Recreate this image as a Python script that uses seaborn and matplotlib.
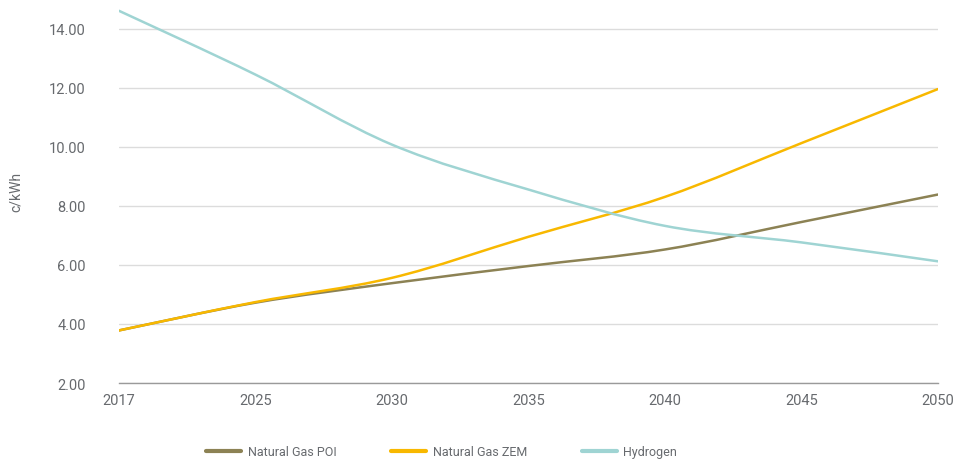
import pandas as pd
import matplotlib.pyplot as plt
import seaborn as sns
from matplotlib.path import Path
from matplotlib.patches import PathPatch
from matplotlib.lines import Line2D

# cost per kWh (categorical years)
years = ["2017", "2025", "2030", "2035", "2040", "2045", "2050"]
gas_poi = [3.78, 4.72, 5.38, 5.96, 6.52, 7.45, 8.38]
gas_zem = [3.78, 4.74, 5.56, 6.95, 8.30, 10.12, 11.95]
hydrogen = [14.60, 12.44, 10.07, 8.55, 7.32, 6.76, 6.12]

names = ["Natural Gas POI", "Natural Gas ZEM", "Hydrogen"]
colors = ["#8c8254", "#f8b800", "#9fd4d3"]

df = pd.DataFrame({
    "year": years * 3,
    "pos": list(range(len(years))) * 3,
    "value": gas_poi + gas_zem + hydrogen,
    "series": [n for n in names for _ in years],
})

sns.set_theme(style="white")
plt.rcParams["font.family"] = ["Roboto", "DejaVu Sans"]
text_col = "#676a6e"

fig, ax = plt.subplots(figsize=(9.56, 4.64), dpi=100)
fig.subplots_adjust(left=0.1245, right=0.981, bottom=0.1724, top=1.0)

sns.lineplot(data=df, x="pos", y="value", hue="series", palette=colors,
             hue_order=names, ax=ax, legend=False, linewidth=1.8)


def smooth_path(xs, ys):
    # Excel-style smoothed line: catmull-rom segments as cubic beziers
    pts = list(zip(xs, ys))
    verts = [pts[0]]
    codes = [Path.MOVETO]
    n = len(pts)
    for i in range(n - 1):
        p0 = pts[i - 1] if i > 0 else pts[i]
        p1 = pts[i]
        p2 = pts[i + 1]
        p3 = pts[i + 2] if i + 2 < n else pts[i + 1]
        c1 = (p1[0] + (p2[0] - p0[0]) / 6, p1[1] + (p2[1] - p0[1]) / 6)
        c2 = (p2[0] - (p3[0] - p1[0]) / 6, p2[1] - (p3[1] - p1[1]) / 6)
        verts += [c1, c2, p2]
        codes += [Path.CURVE4] * 3
    return Path(verts, codes)


# replace the straight segments with smoothed curves
for line, col in zip(list(ax.lines), colors):
    xs, ys = line.get_xdata(), line.get_ydata()
    line.set_visible(False)
    ax.add_patch(PathPatch(smooth_path(xs, ys), facecolor="none",
                           edgecolor=col, linewidth=1.8, zorder=3,
                           capstyle="round"))

ax.set_xlim(0, len(years) - 1)
ax.set_ylim(2, 15.0)
ax.set_yticks([2, 4, 6, 8, 10, 12, 14])
ax.set_yticklabels([f"{v:.2f}" for v in [2, 4, 6, 8, 10, 12, 14]])
ax.set_xticks(range(len(years)))
ax.set_xticklabels(years)
ax.grid(axis="y", color="#dcdcdc", linewidth=1.0)
ax.set_axisbelow(True)

for s in ["top", "right", "left"]:
    ax.spines[s].set_visible(False)
ax.spines["bottom"].set_color("#9a9a9a")
ax.spines["bottom"].set_linewidth(1.0)

ax.tick_params(axis="y", length=0, pad=24, labelsize=10.5, labelcolor=text_col)
ax.tick_params(axis="x", length=0, pad=7, labelsize=10.5, labelcolor=text_col)
ax.set_xlabel("")
ax.set_ylabel("c/kWh", color=text_col, fontsize=10, labelpad=19)

handles = [Line2D([0], [0], color=c, linewidth=3) for c in colors]
fig.legend(handles, names, loc="center", bbox_to_anchor=(0.462, 0.025),
           ncol=3, frameon=False, fontsize=9, labelcolor=text_col,
           handlelength=2.8, handletextpad=0.5, columnspacing=4.4)

plt.savefig("out.png", dpi=100)
